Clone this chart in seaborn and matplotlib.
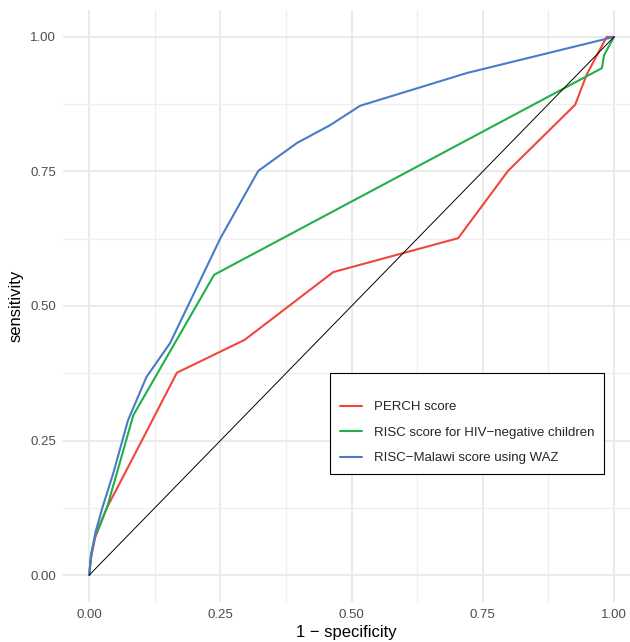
import numpy as np
import pandas as pd
import matplotlib
matplotlib.use("Agg")
import matplotlib.pyplot as plt
import seaborn as sns
from matplotlib.ticker import MultipleLocator

# ---- data ----
perch_x = [0, 0.003, 0.011, 0.034, 0.078, 0.167, 0.296, 0.465, 0.703, 0.798, 0.926, 0.948, 0.986, 1.0]
perch_y = [0, 0.030, 0.069, 0.126, 0.208, 0.376, 0.437, 0.563, 0.626, 0.751, 0.874, 0.930, 1.0, 1.0]

risc_x = [0, 0.004, 0.012, 0.034, 0.084, 0.238, 0.977, 0.981, 1.0]
risc_y = [0, 0.040, 0.075, 0.126, 0.297, 0.558, 0.942, 0.966, 1.0]

malawi_x = [0, 0.003, 0.012, 0.025, 0.046, 0.074, 0.109, 0.154, 0.250, 0.322, 0.396, 0.459, 0.516, 0.720, 1.0]
malawi_y = [0, 0.035, 0.080, 0.125, 0.190, 0.288, 0.368, 0.431, 0.626, 0.751, 0.803, 0.836, 0.872, 0.933, 1.0]

series_names = ["PERCH score", "RISC score for HIV\u2212negative children", "RISC\u2212Malawi score using WAZ"]
series_colors = ["#F0463C", "#1FB04A", "#4A7BC8"]

diag_x = [0, 1]
diag_y = [0, 1]

tick_values = [0.00, 0.25, 0.50, 0.75, 1.00]
tick_labels = ["0.00", "0.25", "0.50", "0.75", "1.00"]

df = pd.concat([
    pd.DataFrame({"fpr": perch_x, "tpr": perch_y, "model": series_names[0]}),
    pd.DataFrame({"fpr": risc_x, "tpr": risc_y, "model": series_names[1]}),
    pd.DataFrame({"fpr": malawi_x, "tpr": malawi_y, "model": series_names[2]}),
], ignore_index=True)

sns.set_theme(style="white")
plt.rcParams["font.family"] = ["Liberation Sans", "DejaVu Sans"]

fig = plt.figure(figsize=(6.3, 6.42), dpi=100)
ax = fig.add_axes([63 / 630, 1 - 602 / 642, 567 / 630, 592 / 642])

# grid
ax.set_axisbelow(True)
ax.xaxis.set_minor_locator(MultipleLocator(0.125))
ax.yaxis.set_minor_locator(MultipleLocator(0.125))
ax.grid(which="major", color="#E8E8E8", linewidth=1.3)
ax.grid(which="minor", color="#EFEFEF", linewidth=0.9)

sns.lineplot(data=df, x="fpr", y="tpr", hue="model", hue_order=series_names,
             palette=series_colors, sort=False, estimator=None, linewidth=1.5, ax=ax)
sns.lineplot(x=diag_x, y=diag_y, color="black", linewidth=0.7, ax=ax)

ax.set_xlim(-0.05, (630 - 89) / 525)
ax.set_ylim(-0.05, 1.05)
ax.set_xticks(tick_values)
ax.set_xticklabels(tick_labels)
ax.set_yticks(tick_values)
ax.set_yticklabels(tick_labels)
ax.tick_params(axis="both", which="both", length=0, labelsize=9.5, labelcolor="#4D4D4D", pad=5)
for s in ax.spines.values():
    s.set_visible(False)

ax.set_xlabel("1 \u2212 specificity", fontsize=12, color="black", labelpad=3)
ax.set_ylabel("sensitivity", fontsize=12, color="black", labelpad=5)

leg = ax.legend(title=" ", title_fontsize=4, loc="upper left",
                bbox_to_anchor=((330 - 63) / 567, (602 - 373) / 592), borderaxespad=0,
                frameon=True, fancybox=False, framealpha=1, edgecolor="black",
                fontsize=9.5, handlelength=1.7, handletextpad=0.85,
                labelspacing=1.0, borderpad=0.75)
leg.get_frame().set_linewidth(0.8)

fig.savefig("out.png", dpi=100)
